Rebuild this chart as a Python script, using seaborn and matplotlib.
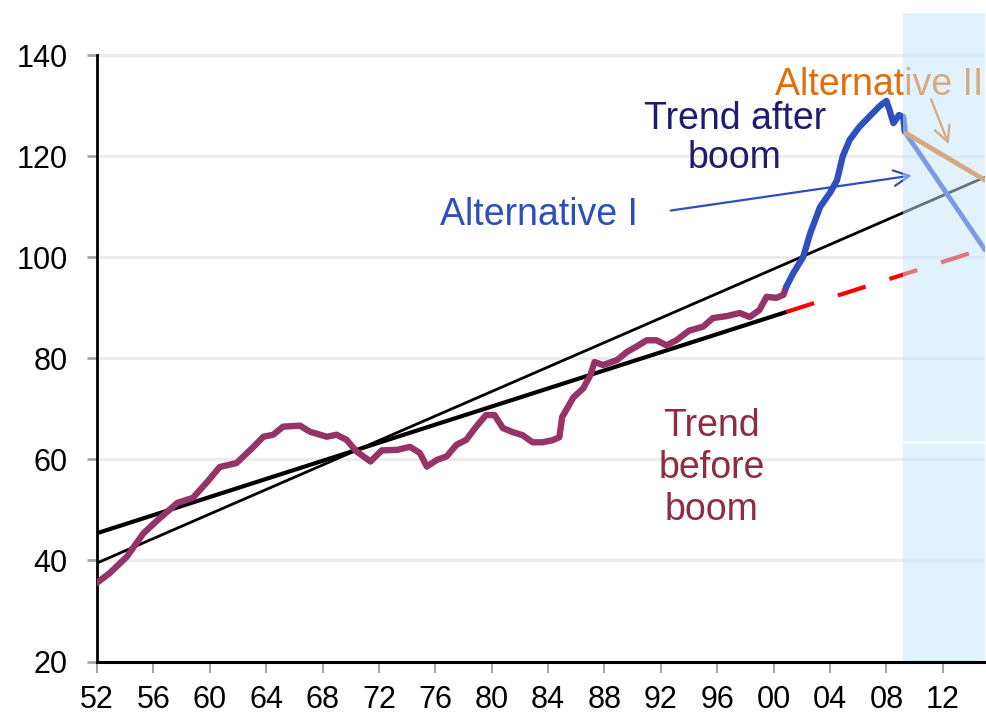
import matplotlib
matplotlib.use("Agg")
import matplotlib.pyplot as plt
import pandas as pd
import seaborn as sns

# index, before the boom (purple)
years_before = [1952.0, 1952.9, 1954.1, 1955.3, 1956.3, 1957.7, 1958.8, 1959.8, 1960.7, 1961.9,
                1963.1, 1963.8, 1964.5, 1965.2, 1966.4, 1967.1, 1968.3, 1969.0, 1969.7, 1970.4,
                1971.4, 1972.2, 1973.3, 1974.2, 1974.9, 1975.4, 1976.1, 1976.8, 1977.5, 1978.2,
                1978.9, 1979.6, 1980.2, 1980.8, 1981.5, 1982.2, 1982.9, 1983.6, 1984.3, 1984.8,
                1985.0, 1985.8, 1986.5, 1987.0, 1987.3, 1987.9, 1988.9, 1989.6, 1990.3, 1991.0,
                1991.7, 1992.4, 1993.1, 1994.0, 1995.0, 1995.7, 1996.7, 1997.6, 1998.3, 1999.0,
                1999.5, 2000.2, 2000.7, 2000.9]
index_before = [35.6, 37.5, 40.7, 45.4, 48.0, 51.4, 52.4, 55.5, 58.5, 59.3,
                62.5, 64.5, 64.9, 66.5, 66.7, 65.5, 64.5, 64.9, 63.9, 61.6,
                59.6, 61.8, 61.9, 62.5, 61.3, 58.6, 59.9, 60.6, 62.9, 63.9,
                66.5, 68.8, 68.8, 66.2, 65.4, 64.8, 63.4, 63.4, 63.8, 64.4,
                68.4, 72.3, 74.1, 76.7, 79.3, 78.7, 79.7, 81.3, 82.4, 83.6,
                83.6, 82.6, 83.6, 85.5, 86.3, 88.0, 88.4, 89.0, 88.2, 89.6,
                92.2, 92.0, 92.6, 94.2]

# index, the boom (blue)
years_boom = [2000.9, 2001.4, 2002.1, 2002.6, 2003.3, 2004.0, 2004.5, 2004.9, 2005.4,
              2006.1, 2006.8, 2007.5, 2008.0, 2008.2, 2008.5, 2008.9, 2009.2, 2009.3]
index_boom = [94.2, 96.9, 100.1, 104.8, 110.0, 112.8, 115.3, 120.0, 123.3,
              125.9, 127.9, 129.9, 131.0, 129.4, 126.6, 128.2, 127.8, 124.9]

# trend lines
trend_before_years = [1952, 2000.9]
trend_before_vals = [45.4, 89.2]
trend_before_ext_years = [2000.9, 2015]
trend_before_ext_vals = [89.2, 101.8]
trend_after_years = [1952, 2015]
trend_after_vals = [39.5, 115.9]

# scenarios
alt1_years = [2009.3, 2015]
alt1_vals = [124.9, 101.5]
alt2_years = [2009.4, 2015]
alt2_vals = [124.6, 115.3]

tick_years = list(range(1952, 2013, 4))
tick_labels = [f"{y % 100:02d}" for y in tick_years]
yticks = [20, 40, 60, 80, 100, 120, 140]

sns.set_style("white")
plt.rcParams["font.family"] = ["Liberation Sans", "DejaVu Sans"]

fig = plt.figure(figsize=(9.87, 7.17), dpi=100)
ax = fig.add_axes([0.0983, 0.0774, 0.8997, 0.9045])


def draw(xs, ys, **kw):
    df = pd.DataFrame({"year": xs, "value": ys})
    sns.lineplot(data=df, x="year", y="value", ax=ax, sort=False,
                 estimator=None, legend=False, **kw)


draw(trend_after_years, trend_after_vals, color="black", linewidth=2.0, zorder=3)
draw(trend_before_years, trend_before_vals, color="black", linewidth=3.0, zorder=3)
draw(trend_before_ext_years, trend_before_ext_vals, color="#ff0000", linewidth=3.0,
     dashes=(7, 6), zorder=3)
draw(years_before, index_before, color="#963468", linewidth=4.6, zorder=4)
draw(years_boom, index_boom, color="#2d50c0", linewidth=4.6, zorder=4)
draw(alt1_years, alt1_vals, color="#2d50c0", linewidth=3.5, zorder=4)
draw(alt2_years, alt2_vals, color="#e46c0a", linewidth=3.5, zorder=4)

# annotations
ax.text(1997.25, 123.6, "Trend after\nboom", color="#1f1a72", fontsize=27,
        ha="center", va="center", linespacing=1.12, zorder=3)
ax.text(1983.35, 108.4, "Alternative I", color="#2c4fbd", fontsize=27,
        ha="center", va="center", zorder=3)
ax.text(2007.5, 134.2, "Alternative II", color="#e46c0a", fontsize=27,
        ha="center", va="center", zorder=3)
ax.text(1995.6, 58.3, "Trend\nbefore\nboom", color="#8e2d40", fontsize=27,
        ha="center", va="center", linespacing=1.2, zorder=3)

ax.annotate("", xy=(2010.0, 116.3), xytext=(1992.5, 109.2),
            arrowprops=dict(arrowstyle="->", color="#2c4fbd", lw=1.6, mutation_scale=28),
            zorder=3)
ax.annotate("", xy=(2012.5, 121.9), xytext=(2011.1, 131.8),
            arrowprops=dict(arrowstyle="->", color="#e46c0a", lw=1.6, mutation_scale=28),
            zorder=3)

# forecast region, semi transparent on top of the lines
ax.axvspan(2009.2, 2015, ymin=0, ymax=0.336, color="#c7e7fb", alpha=0.5,
           lw=0, zorder=5)
ax.axvspan(2009.2, 2015, ymin=0.340, ymax=1, color="#c7e7fb", alpha=0.5,
           lw=0, zorder=5)

ax.set_xlim(1952, 2015)
ax.set_ylim(20, 148.4)
ax.set_xticks(tick_years)
ax.set_xticklabels(tick_labels)
ax.set_yticks(yticks)
ax.set_xlabel("")
ax.set_ylabel("")

ax.grid(axis="y", color="#ececec", linewidth=2.2)
ax.grid(axis="x", visible=False)
ax.set_axisbelow(True)

for side in ["top", "right"]:
    ax.spines[side].set_visible(False)
ax.spines["left"].set_bounds(20, 140)
ax.spines["left"].set_color("black")
ax.spines["left"].set_linewidth(2)
ax.spines["bottom"].set_color("black")
ax.spines["bottom"].set_linewidth(2.2)
ax.spines["bottom"].set_zorder(6)

ax.tick_params(axis="x", length=8, width=1.5, color="#a6a6a6", pad=9,
               labelsize=22, labelcolor="black", bottom=True)
ax.tick_params(axis="y", length=7, width=2, color="#a6a6a6", pad=14,
               labelsize=22, labelcolor="black", left=True)

fig.savefig("out.png", dpi=100)
